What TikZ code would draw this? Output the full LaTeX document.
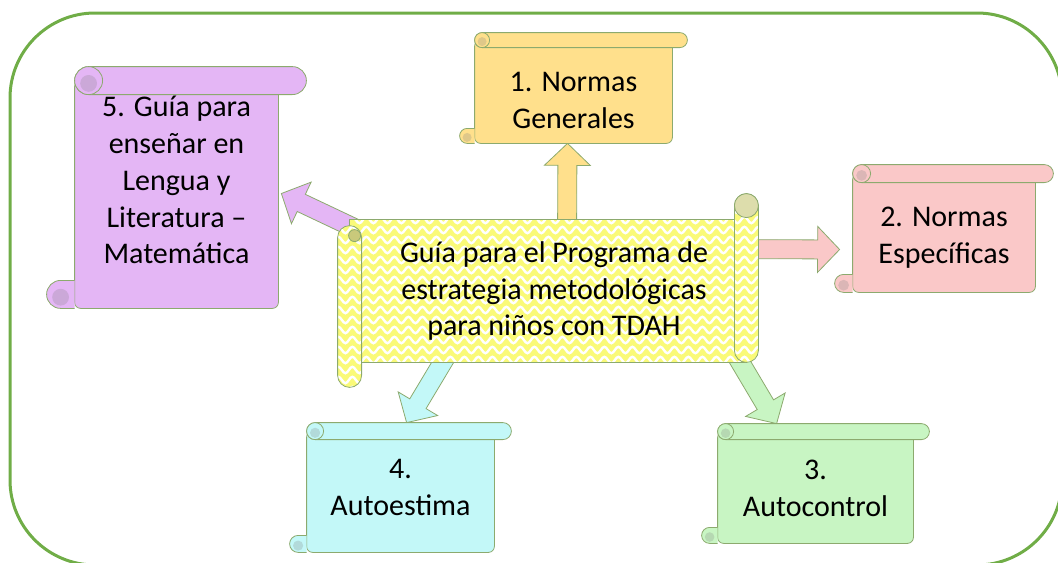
\documentclass[tikz,border=0pt]{standalone}
\usepackage{fontspec}
\setmainfont{Carlito}
\usetikzlibrary{calc,decorations.pathmorphing}
\definecolor{framegreen}{RGB}{112,173,71}
\definecolor{scrollline}{RGB}{140,170,110}
\definecolor{normorange}{RGB}{255,224,140}
\definecolor{normpink}{RGB}{250,200,200}
\definecolor{autogreen}{RGB}{200,245,195}
\definecolor{autocyan}{RGB}{195,248,248}
\definecolor{guiapurple}{RGB}{228,182,245}
\definecolor{guiayellow}{RGB}{250,250,120}

\pgfdeclarelayer{arrows}
\pgfdeclarelayer{scrolls}
\pgfsetlayers{arrows,scrolls,main}

% horizontal scroll behind a node: node, roll size (px), fill
\newcommand\hscroll[3]{%
  \draw[scrollline, fill=#3, rounded corners=3pt] ($(#1.north west)+(0,-#2/2)$) rectangle (#1.south east);
  \draw[scrollline, fill=#3] ($(#1.south west)+(0,-#2)$) -- ++(-#2/2,0) arc[start angle=90, end angle=270, radius=#2*0.25pt] -- (#1.south west);
  \fill[#3!75!gray] ($(#1.south west)+(-#2/2,-#2*0.4)$) circle[radius=#2*0.15pt];
  \draw[scrollline, fill=#3, rounded corners=#2*0.25pt] ($(#1.north west)+(0,-#2)$) rectangle ($(#1.north east)+(#2,0)$);
  \draw[scrollline, fill=#3] ($(#1.north west)+(#2/2,-#2/2)$) circle[radius=#2*0.25pt];
  \fill[#3!75!gray] ($(#1.north west)+(#2/2,-#2*0.4)$) circle[radius=#2*0.15pt];
}

% yellow piece with white waves
\newcommand\wavepiece[1]{%
  \fill[guiayellow] #1;
  \begin{scope}
    \clip #1;
    \foreach \wy in {180,190,...,400}
      \draw[yellowwave] (320,\wy) -- (790,\wy);
  \end{scope}
  \draw[scrollline] #1;
}

% block arrow: from, to, fill
\newcommand\blockarrow[3]{%
  \coordinate (ba-s) at #1;
  \coordinate (ba-t) at #2;
  \coordinate (ba-h) at ($(ba-t)!11pt!(ba-s)$);
  \draw[scrollline, fill=#3, line join=miter]
    ($(ba-s)!4.75pt!90:(ba-t)$) -- ($(ba-h)!4.75pt!-90:(ba-s)$) -- ($(ba-h)!11.5pt!-90:(ba-s)$) -- (ba-t)
    -- ($(ba-h)!11.5pt!90:(ba-s)$) -- ($(ba-h)!4.75pt!90:(ba-s)$) -- ($(ba-s)!4.75pt!-90:(ba-t)$) -- cycle;
}

\begin{document}
\begin{tikzpicture}[x=0.5pt, y=-0.5pt,
    scrolltext/.style={rectangle, inner sep=0pt, align=center, font=\fontsize{15pt}{18.4pt}\selectfont},
    yellowwave/.style={white, line width=1.2pt, decorate, decoration={snake, amplitude=1.6pt, segment length=7pt}}
]
\useasboundingbox (0,0) rectangle (1058,562);

% Texts
\node[scrolltext, minimum width=210pt, minimum height=71pt] (guia) at (548,291) {\hspace*{6pt}Guía para el Programa de\\\hspace*{6pt}estrategia metodológicas\\\hspace*{6pt}para niños con TDAH};
\node[scrolltext, minimum width=98.5pt, minimum height=47.5pt] (n1) at (573.5,95.5) {\rule{0pt}{14.7pt}1. Normas\\Generales};
\node[scrolltext, minimum width=91pt, minimum height=54.5pt] (n2) at (944,237.5) {2. Normas\\Específicas};
\node[scrolltext, minimum width=97.5pt, minimum height=51.5pt] (n3) at (815.5,491.5) {3.\\Autocontrol\rule[-3pt]{0pt}{0pt}};
\node[scrolltext, minimum width=93.5pt, minimum height=56pt] (n4) at (400.5,496) {4.\\Autoestima\rule[-9pt]{0pt}{0pt}};
\node[scrolltext, minimum width=101.5pt, minimum height=106.5pt] (n5) at (176.5,201.5) {5. Guía para\\enseñar en\\Lengua y\\Literatura –\\Matemática\rule[-21.5pt]{0pt}{0pt}};

% Scrolls
\begin{pgfonlayer}{scrolls}
\hscroll{n1}{15}{normorange}
\hscroll{n2}{18}{normpink}
\hscroll{n3}{16}{autogreen}
\hscroll{n4}{17}{autocyan}
\hscroll{n5}{28}{guiapurple}

% centre scroll
\wavepiece{($(guia.north west)+(12,0)$) rectangle ($(guia.south east)+(-12,0)$)}
\wavepiece{[rounded corners=6pt] ($(guia.north east)+(-24,-26)$) rectangle (guia.south east)}
\wavepiece{[rounded corners=6pt] ($(guia.north west)+(0,6)$) rectangle ($(guia.south west)+(24,25)$)}
\draw[scrollline, fill=guiayellow!50!white!75!gray] ($(guia.north east)+(-12,-14)$) circle[radius=6pt];
\draw[scrollline, fill=guiayellow!60!gray] ($(guia.north west)+(17,16)$) circle[radius=3pt];
\end{pgfonlayer}

% Arrows
\begin{pgfonlayer}{arrows}
\blockarrow{($(guia.north)+(19,20)$)}{($(n1.south)+(-6,0)$)}{normorange}
\blockarrow{($(guia.east)+(-40,-42)$)}{($(n2.west)+(-13,12)$)}{normpink}
\blockarrow{($(guia.south east)+(-30,-20)$)}{($(n3.north west)+(59,-16)$)}{autogreen}
\blockarrow{($(guia.south west)+(123,-30)$)}{($(n4.north west)+(100,-17)$)}{autocyan}
\blockarrow{($(guia.north west)+(37,18)$)}{($(n5.east)+(3,-8)$)}{guiapurple}
\end{pgfonlayer}

% Frame
\draw[framegreen, line width=1.5pt, rounded corners=42.5pt] (10,13) rectangle (1062,565);

\end{tikzpicture}
\end{document}
